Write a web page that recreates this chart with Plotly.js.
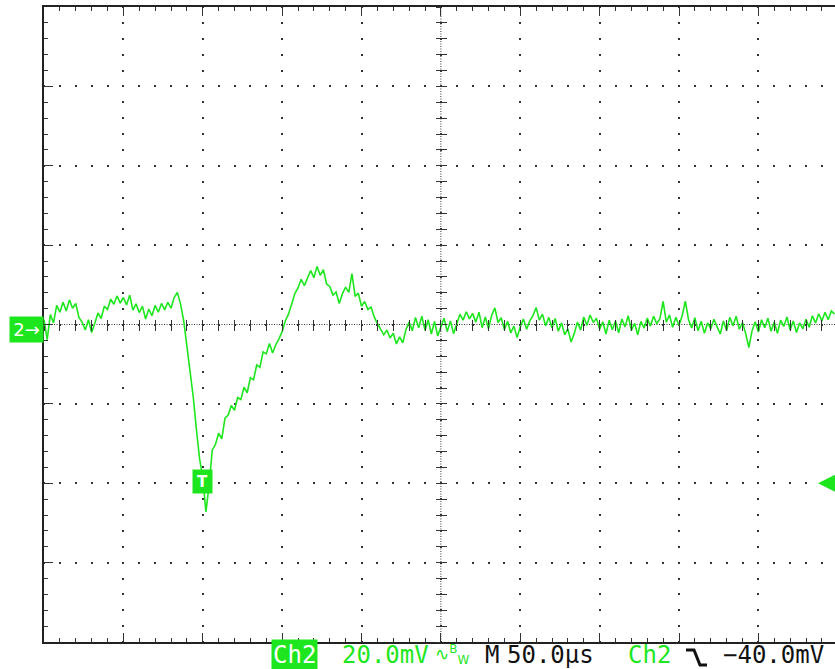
<!DOCTYPE html>
<html><head><meta charset="utf-8">
<script src="https://cdn.plot.ly/plotly-3.0.1.min.js"></script>
<style>html,body{margin:0;padding:0;background:#fff;}#plot{width:835px;height:669px;}</style>
</head><body><div id="plot"></div>
<script>
// ---- data (Ch2, mV vs µs) ----
const sampleStepUs = 2;
const ch2mV = [
 1.2, -3.8, 2.5, 0.4, 4.8, 3.1, 5.6, 3.4, 6.2, 4.1,
 5.3, 1.8, 0.6, -1.4, 1.2, -2.0, 0.3, 2.9, 1.5, 4.6,
 3.8, 6.4, 5.1, 7.2, 5.4, 6.8, 4.9, 7.4, 3.6, 5.2,
 3.0, 4.6, 1.4, 3.9, 2.2, 4.8, 3.1, 5.3, 3.7, 5.6,
 4.1, 6.8, 8.1, 5.2, 1.0, -5.6, -10.9, -18.2, -26.4, -33.8,
 -38.5, -47.2, -40.5, -31.6, -30.2, -27.4, -28.8, -23.6, -22.8, -20.4,
 -21.6, -18.4, -18.9, -15.8, -17.2, -13.4, -13.9, -10.2, -10.8, -6.9,
 -7.4, -4.8, -7.2, -5.1, -3.6, -1.8, 0.9, 2.6, 5.1, 7.8,
 9.2, 11.4, 9.8, 11.9, 13.6, 11.8, 14.6, 12.4, 13.8, 10.2,
 9.6, 7.4, 8.2, 5.3, 7.8, 9.4, 8.1, 12.8, 7.1, 7.9,
 4.6, 5.8, 3.8, 4.4, 1.9, 0.3, -1.2, -2.6, -1.4, -3.4,
 -2.2, -4.9, -3.1, -4.6, -1.3, 0.6, -1.6, 1.8, -0.8, 2.1,
 -1.5, 1.2, -2.4, 0.8, -2.9, -0.4, 1.6, -1.8, 0.9, -2.3,
 0.4, 2.6, 1.1, 3.2, 1.4, 2.8, 0.6, 3.1, -0.8, 1.9,
 -1.1, 2.3, 4.2, 0.5, 1.7, -1.3, 0.8, -2.1, -0.4, -3.3,
 -0.6, 1.4, -1.2, 0.9, 2.2, 4.3, 1.1, 2.6, -0.3, 1.8,
 -0.9, 1.5, -1.7, 0.4, -2.6, -1.1, -4.4, -2.3, 0.6, -1.4,
 1.9, -0.2, 2.4, 0.5, 1.6, -1.2, 0.7, -2.4, 1.1, -1.3,
 0.9, -2.1, 1.4, -0.6, 2.2, -1.5, 0.3, -2.6, 0.8, -0.9,
 1.6, -0.4, 2.1, 0.2, 1.5, 5.8, 0.6, 2.4, -0.7, 1.8,
 -0.2, 2.2, 5.9, 1.2, -0.9, 1.7, -1.6, 0.8, -2.2, 0.4,
 -1.1, 1.3, -0.6, -2.4, 0.9, -1.5, 1.8, -0.3, 2.1, -1.2,
 0.5, -2.3, -5.8, -1.6, 0.7, -1.9, 1.2, -0.8, 1.6, -1.7,
 0.6, -2.2, 1.1, -0.5, 1.9, -1.4, 0.9, -2.0, 0.4, -1.1,
 1.3, -0.7, 2.2, 0.4, 2.7, 0.9, 3.1, 1.2, 3.4, 2.6
];
const timeUs = ch2mV.map((_, i) => i * sampleStepUs);

const voltsPerDiv = 20;      // mV/div
const timePerDiv = 50;       // µs/div
const triggerTimeUs = 100;
const triggerLevelmV = -40;
const groundLabel = '2→';
const triggerLabel = 'T';
const statusChannel = 'Ch2';
const statusVolts = '20.0mV';
const statusBw = '∿<sup>B</sup><sub>W</sub>';
const statusM = 'M';
const statusTime = '50.0µs';
const statusTrigCh = 'Ch2';
const statusTrigLevel = '−40.0mV';

// ---- styling ----
const GREEN = '#1ee61e';
const DOT = '#333';
const MONO = 'DejaVu Sans Mono';
const PL = 44, PT = 7, PW = 791, PH = 635;
const divPx = PH / 8;
const xMax = PW / divPx * timePerDiv;
const xRange = [0, xMax];
const yRange = [-4 * voltsPerDiv, 4 * voltsPerDiv];
const minorPx = divPx / 5;
const dotDash = '1px,' + (minorPx - 2).toFixed(3) + 'px,1px,0px';
const px2paperX = p => (p - PL) / PW;
const px2paperY = p => (PT + PH - p) / PH;

const baseTicks = {showticklabels:false, zeroline:false, fixedrange:true};

const traces = [
  {x: timeUs, y: ch2mV, type:'scatter', mode:'lines',
   line:{color:GREEN, width:1.6}, hoverinfo:'skip', xaxis:'x', yaxis:'y'},
  // empty helpers so that the overlay axes (top border, centre ticks) get drawn
  {x:[], y:[], type:'scatter', mode:'lines', xaxis:'x2', yaxis:'y', hoverinfo:'skip'},
  {x:[], y:[], type:'scatter', mode:'lines', xaxis:'x3', yaxis:'y', hoverinfo:'skip'},
  {x:[], y:[], type:'scatter', mode:'lines', xaxis:'x4', yaxis:'y', hoverinfo:'skip'},
  {x:[], y:[], type:'scatter', mode:'lines', xaxis:'x', yaxis:'y2', hoverinfo:'skip'},
  {x:[], y:[], type:'scatter', mode:'lines', xaxis:'x', yaxis:'y3', hoverinfo:'skip'}
];

function statusText(px, text, color, extra) {
  return Object.assign({
    xref:'paper', yref:'paper', x:px2paperX(px), y:px2paperY(655), xanchor:'left', yanchor:'middle',
    text:text, showarrow:false, borderpad:0,
    font:{family:MONO, size:24, color:color}
  }, extra || {});
}

const layout = {
  width:835, height:669,
  margin:{l:PL, r:835-PL-PW, t:PT, b:669-PT-PH, pad:0},
  paper_bgcolor:'#fff', plot_bgcolor:'#fff', showlegend:false,
  font:{family:'DejaVu Sans', color:'#000'},
  xaxis:Object.assign({}, baseTicks, {
    range:xRange, tick0:0, dtick:timePerDiv,
    showgrid:true, gridcolor:DOT, gridwidth:2, griddash:dotDash,
    showline:true, linecolor:'#222', linewidth:2,
    ticks:'inside', ticklen:9, tickwidth:1, tickcolor:DOT,
    minor:{tick0:0, dtick:timePerDiv/5, ticks:'inside', ticklen:4, tickwidth:1, tickcolor:DOT, showgrid:false}
  }),
  xaxis2:Object.assign({}, baseTicks, {
    overlaying:'x', side:'top', anchor:'y', range:xRange, tick0:0, dtick:timePerDiv,
    showgrid:false, showline:true, linecolor:'#222', linewidth:2,
    ticks:'inside', ticklen:9, tickwidth:1, tickcolor:DOT,
    minor:{tick0:0, dtick:timePerDiv/5, ticks:'inside', ticklen:4, tickwidth:1, tickcolor:DOT, showgrid:false}
  }),
  xaxis3:Object.assign({}, baseTicks, {
    overlaying:'x', anchor:'free', position:0.5, range:xRange, tick0:0, dtick:timePerDiv/5,
    showgrid:false, showline:false, ticks:'outside', ticklen:5, tickwidth:1, tickcolor:DOT
  }),
  xaxis4:Object.assign({}, baseTicks, {
    overlaying:'x', anchor:'free', position:0.5, range:xRange, tick0:0, dtick:timePerDiv/5,
    showgrid:false, showline:false, ticks:'inside', ticklen:5, tickwidth:1, tickcolor:DOT
  }),
  yaxis:Object.assign({}, baseTicks, {
    range:yRange, tick0:0, dtick:voltsPerDiv,
    showgrid:true, gridcolor:DOT, gridwidth:2, griddash:dotDash,
    showline:true, linecolor:'#222', linewidth:2,
    ticks:'inside', ticklen:9, tickwidth:1, tickcolor:DOT,
    minor:{tick0:0, dtick:voltsPerDiv/5, ticks:'inside', ticklen:4, tickwidth:1, tickcolor:DOT, showgrid:false}
  }),
  yaxis2:Object.assign({}, baseTicks, {
    overlaying:'y', anchor:'free', position:(5*timePerDiv)/xMax, range:yRange, tick0:0, dtick:voltsPerDiv/5,
    showgrid:false, showline:false, ticks:'outside', ticklen:5, tickwidth:1, tickcolor:DOT
  }),
  yaxis3:Object.assign({}, baseTicks, {
    overlaying:'y', anchor:'free', position:(5*timePerDiv)/xMax, range:yRange, tick0:0, dtick:voltsPerDiv/5,
    showgrid:false, showline:false, ticks:'inside', ticklen:5, tickwidth:1, tickcolor:DOT
  }),
  shapes:[
    {type:'line', layer:'below', xref:'x', yref:'paper', x0:5*timePerDiv, x1:5*timePerDiv, y0:0, y1:1,
     line:{color:DOT, width:1, dash:'1px,1.5px'}},
    {type:'line', layer:'below', xref:'paper', yref:'y', x0:0, x1:1, y0:0, y1:0,
     line:{color:DOT, width:1, dash:'1px,1.5px'}},
    {type:'path', xref:'paper', yref:'paper',
     path:'M'+px2paperX(686)+','+px2paperY(650)+' L'+px2paperX(694)+','+px2paperY(650)+
          ' L'+px2paperX(700)+','+px2paperY(665)+' L'+px2paperX(707)+','+px2paperY(665),
     line:{color:'#111', width:3}}
  ],
  annotations:[
    {xref:'paper', yref:'y', x:0, y:0, xanchor:'right', yanchor:'middle', yshift:-5,
     text:groundLabel, showarrow:false, bgcolor:GREEN, borderpad:1, width:31, height:23,
     font:{family:'DejaVu Sans', size:18, color:'#fff'}},
    {xref:'x', yref:'y', x:triggerTimeUs, y:triggerLevelmV, xanchor:'center', yanchor:'middle', yshift:2,
     text:'<b>'+triggerLabel+'</b>', showarrow:false, bgcolor:GREEN, borderpad:1, width:17, height:21,
     font:{family:'DejaVu Sans', size:15, color:'#fff'}},
    {xref:'paper', yref:'y', x:px2paperX(818), y:triggerLevelmV, text:'', showarrow:true,
     ax:17, ay:0, arrowhead:2, arrowsize:1.2, arrowwidth:3, arrowcolor:GREEN, standoff:0},
    statusText(271, statusChannel, '#fff', {bgcolor:GREEN, borderpad:1}),
    statusText(341, statusVolts, GREEN),
    statusText(434, statusBw, GREEN, {y:px2paperY(654), font:{family:'DejaVu Sans', size:17, color:GREEN}}),
    statusText(484, statusM, '#111'),
    statusText(506, statusTime, '#111'),
    statusText(627, statusTrigCh, GREEN),
    statusText(722, statusTrigLevel, '#111')
  ]
};

Plotly.newPlot('plot', traces, layout, {displayModeBar:false, staticPlot:true});
</script>
</body></html>
